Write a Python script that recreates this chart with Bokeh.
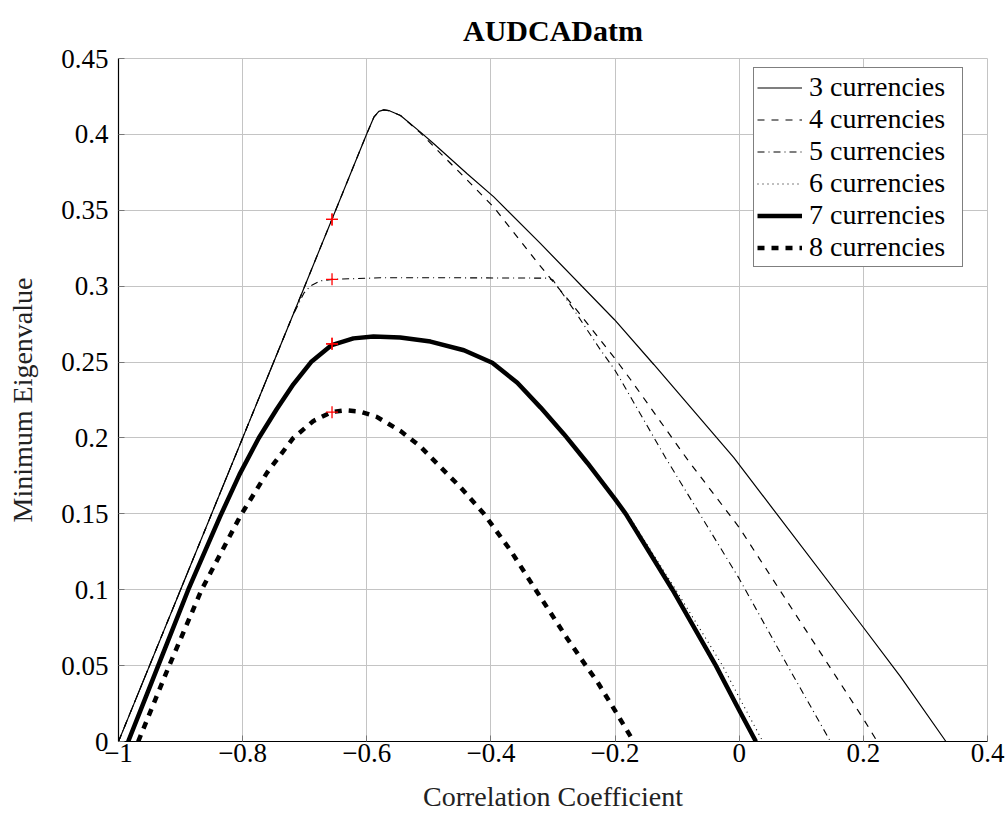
from bokeh.plotting import figure
from bokeh.models import FixedTicker, Legend, LegendItem, Range1d
from bokeh.embed import file_html
from bokeh.resources import INLINE

# ---------------- data ----------------
x3 = [-1.0, -0.9, -0.8, -0.7, -0.6, -0.5886, -0.5806, -0.5726, -0.5645, -0.5457,
      -0.5135, -0.492, -0.4383, -0.3954, -0.32, -0.2009, -0.1376, -0.0087, 0.1992, 0.2598, 0.333]
y3 = [0.0, 0.1, 0.2, 0.3, 0.4004, 0.4113, 0.4152, 0.4161, 0.4157, 0.4124,
      0.4015, 0.3938, 0.3741, 0.3588, 0.328, 0.2779, 0.2484, 0.187, 0.0756, 0.0428, 0.0]

x4 = [-1.0, -0.9, -0.8, -0.7, -0.6, -0.5886, -0.5806, -0.5726, -0.5645, -0.5457,
      -0.5135, -0.48, -0.4383, -0.3954, -0.32, -0.2665, -0.2009, -0.1751, -0.0838,
      0.0, 0.0666, 0.1524, 0.1992, 0.2223]
y4 = [0.0, 0.1, 0.2, 0.3, 0.4004, 0.4113, 0.4152, 0.4161, 0.4157, 0.4124,
      0.4010, 0.387, 0.370, 0.352, 0.313, 0.2866, 0.2527, 0.2385, 0.186,
      0.141, 0.099, 0.045, 0.0155, 0.0]

x5 = [-1.0, -0.9, -0.8, -0.72, -0.7014, -0.6907, -0.6746, -0.6557, -0.578, -0.45,
      -0.3094, -0.30, -0.2665, -0.2235, -0.2009, -0.1912, -0.1189, 0.0, 0.0773, 0.147]
y5 = [0.0, 0.1, 0.2, 0.28, 0.2954, 0.3002, 0.3035, 0.3045, 0.3055, 0.3055,
      0.3053, 0.304, 0.2845, 0.258, 0.2451, 0.2385, 0.1871, 0.1073, 0.0504, 0.0]

x6 = [-0.9844, -0.936, -0.8876, -0.8366, -0.805, -0.774, -0.7452, -0.7183, -0.6898,
      -0.6565, -0.6215, -0.5893, -0.5462, -0.4973, -0.4435, -0.3978, -0.3575, -0.3199,
      -0.2823, -0.2446, -0.2, -0.18, -0.1022, -0.0269, 0.0, 0.038]
y6 = [0.0, 0.05, 0.1, 0.148, 0.176, 0.2, 0.2189, 0.2353, 0.25,
      0.2612, 0.2656, 0.2669, 0.2662, 0.2635, 0.2578, 0.2495, 0.2364, 0.22,
      0.2025, 0.1835, 0.1597, 0.15, 0.1, 0.05, 0.029, 0.0]

x7 = [-0.9844, -0.936, -0.8876, -0.8366, -0.805, -0.774, -0.7452, -0.7183, -0.6898,
      -0.6565, -0.6215, -0.5893, -0.5462, -0.4973, -0.4435, -0.3978, -0.3575, -0.3199,
      -0.2823, -0.2446, -0.2, -0.1828, -0.1075, -0.0376, 0.0, 0.0269]
y7 = [0.0, 0.05, 0.1, 0.148, 0.176, 0.2, 0.2189, 0.2353, 0.25,
      0.2612, 0.2656, 0.2669, 0.2662, 0.2635, 0.2578, 0.2495, 0.2364, 0.22,
      0.2025, 0.1835, 0.1597, 0.15, 0.1, 0.05, 0.0206, 0.0]

x8 = [-0.9683, -0.9183, -0.8661, -0.8034, -0.7604, -0.7183, -0.686, -0.6565, -0.635,
      -0.6108, -0.5839, -0.5462, -0.514, -0.4973, -0.4489, -0.4113, -0.3683, -0.328,
      -0.2771, -0.2446, -0.2288, -0.1993, -0.170]
y8 = [0.0, 0.05, 0.1, 0.1488, 0.1773, 0.2, 0.2112, 0.2171, 0.2182,
      0.2174, 0.2139, 0.2047, 0.1945, 0.1875, 0.1674, 0.15, 0.1258, 0.1,
      0.0679, 0.0485, 0.0395, 0.0198, 0.0]

marker_x = [-0.656, -0.656, -0.656, -0.656, -0.656, -0.656]
marker_y = [0.344, 0.344, 0.3045, 0.262, 0.262, 0.217]

series_labels = ["3 currencies", "4 currencies", "5 currencies",
                 "6 currencies", "7 currencies", "8 currencies"]

x_ticks = [-1.0, -0.8, -0.6, -0.4, -0.2, 0.0, 0.2, 0.4]
x_tick_labels = ["\u22121", "\u22120.8", "\u22120.6", "\u22120.4", "\u22120.2", "0", "0.2", "0.4"]
y_ticks = [0.0, 0.05, 0.1, 0.15, 0.2, 0.25, 0.3, 0.35, 0.4, 0.45]
y_tick_labels = ["0", "0.05", "0.1", "0.15", "0.2", "0.25", "0.3", "0.35", "0.4", "0.45"]

title_text = "AUDCADatm"
x_label_text = "Correlation Coefficient"
y_label_text = "Minimum Eigenvalue"

# ---------------- figure ----------------
FONT = "Liberation Serif"
GRID = "#c4c4c4"

p = figure(width=1006, height=814, output_backend="svg", toolbar_location=None,
           x_range=Range1d(-1.0, 0.4), y_range=Range1d(0.0, 0.45),
           min_border_left=118, min_border_right=19, min_border_top=58, min_border_bottom=70)

p.title.text = title_text
p.title.text_font = FONT
p.title.text_font_size = "30px"
p.title.text_font_style = "bold"
p.title.align = "center"
p.title.vertical_align = "top"
p.title.standoff = 20
p.title.text_color = "black"

p.outline_line_color = GRID
p.outline_line_width = 1
p.background_fill_color = "white"
p.border_fill_color = "white"

for g in (p.xgrid, p.ygrid):
    g.grid_line_color = GRID
    g.grid_line_width = 1
p.xgrid.ticker = FixedTicker(ticks=x_ticks)
p.ygrid.ticker = FixedTicker(ticks=y_ticks)

for ax in (p.xaxis[0], p.yaxis[0]):
    ax.axis_line_color = "black"
    ax.axis_line_width = 1.2
    ax.major_tick_in = 6
    ax.major_tick_out = 0
    ax.major_tick_line_color = "#777777"
    ax.minor_tick_line_color = None
    ax.major_label_text_font = FONT
    ax.major_label_text_font_size = "27px"
    ax.major_label_text_color = "black"
    ax.axis_label_text_font = FONT
    ax.axis_label_text_font_size = "28px"
    ax.axis_label_text_font_style = "normal"
    ax.axis_label_text_color = "#222222"

p.xaxis[0].ticker = FixedTicker(ticks=x_ticks)
p.yaxis[0].ticker = FixedTicker(ticks=y_ticks)
p.xaxis[0].major_label_overrides = {t: l for t, l in zip(x_ticks, x_tick_labels)}
p.yaxis[0].major_label_overrides = {t: l for t, l in zip(y_ticks, y_tick_labels)}
p.xaxis[0].axis_label = x_label_text
p.yaxis[0].axis_label = y_label_text
p.xaxis[0].major_label_standoff = 2
p.xaxis[0].axis_label_standoff = 16
p.yaxis[0].major_label_standoff = 10
p.yaxis[0].axis_label_standoff = 20

r3 = p.line(x3, y3, line_color="black", line_width=1.2)
r4 = p.line(x4, y4, line_color="black", line_width=1.2, line_dash="7 7")
r5 = p.line(x5, y5, line_color="black", line_width=1.1, line_dash="7 4 1 4")
r6 = p.line(x6, y6, line_color="black", line_width=1.1, line_dash="1 4")
r7 = p.line(x7, y7, line_color="black", line_width=4.5, line_join="round")
r8 = p.line(x8, y8, line_color="black", line_width=4.5, line_dash="7 7", line_join="round")

p.scatter(marker_x, marker_y, marker="cross", size=12, line_color="red", line_width=1.3)

legend = Legend(items=[LegendItem(label=l, renderers=[r]) for l, r in
                       zip(series_labels, [r3, r4, r5, r6, r7, r8])],
                location=(635, 474))
legend.label_text_font = FONT
legend.label_text_font_size = "28px"
legend.label_text_color = "black"
legend.glyph_width = 45
legend.glyph_height = 31
legend.label_height = 31
legend.label_width = 150
legend.label_standoff = 7
legend.spacing = 0
legend.padding = 3
legend.margin = 0
legend.border_line_color = "black"
legend.border_line_width = 1
legend.background_fill_color = "white"
legend.background_fill_alpha = 1.0
p.add_layout(legend)

open("out.html", "w").write(file_html(p, INLINE))
